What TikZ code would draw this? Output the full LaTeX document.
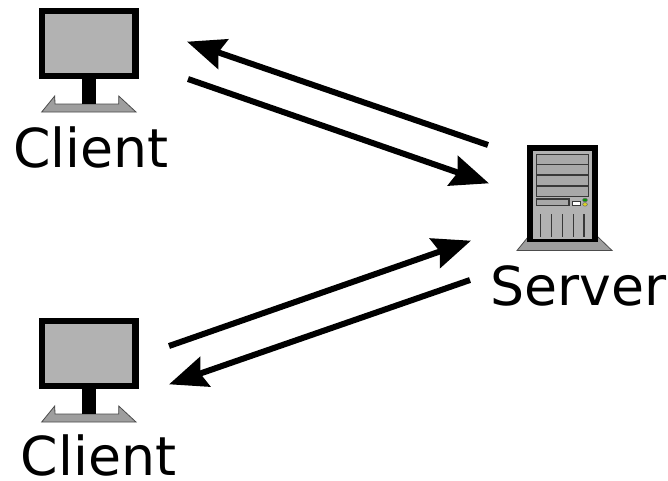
\documentclass[tikz,border=0pt]{standalone}
\usepackage{fontspec}
\setmainfont{DejaVu Sans}
\usetikzlibrary{arrows.meta}
\definecolor{scr}{gray}{0.70}
\definecolor{basegray}{gray}{0.62}
\definecolor{bay}{gray}{0.66}
\definecolor{bayline}{gray}{0.22}
\tikzset{
  flow/.style={line width=6pt,-{Stealth[length=38pt,width=31pt,inset=5pt]},shorten >=-1pt},
  lbl/.style={inner sep=0pt,anchor=base west,font=\fontsize{53.7}{60}\selectfont},
  standbase/.style={fill=basegray,draw=black!70,line width=0.8pt,line join=miter},
  baystyle/.style={fill=bay,draw=bayline,line width=1.5pt},
  vent/.style={draw=bayline,line width=1.3pt},
  pics/monitor/.style={code={
    \filldraw[standbase] (41.7,112)--(54.7,96)--(55,104)--(118.7,104)--(118.7,96)--(136,112)--cycle;
    \fill[black] (82,78) rectangle (96,104);
    \fill[black] (39,8) rectangle (138.7,79);
    \fill[scr] (45.3,14) rectangle (132,73);
  }}
}
\begin{document}
\begin{tikzpicture}[x=1pt,y=-1pt]
\useasboundingbox (0,0) rectangle (668,480);
\fill[white] (0,0) rectangle (668,480);
% monitors
\pic at (0,0) {monitor};
\pic at (0,310) {monitor};
% server
\filldraw[standbase] (517,250.5)--(528,237)--(598,237)--(612,250.5)--cycle;
\fill[black] (527.3,145) rectangle (597.7,242);
\fill[scr] (533,151) rectangle (591.7,238.5);
\foreach \a/\b in {154.3/164.3,164.3/175,175/186,186/196.7}
  \filldraw[baystyle] (536.3,\a) rectangle (588.7,\b);
\filldraw[baystyle] (536.3,199) rectangle (569,205.7);
\filldraw[fill=white,draw=bayline,line width=1pt] (572,201) rectangle (580.3,205.7);
\filldraw[fill=green!60!black,draw=black!60,line width=0.5pt] (585,200) ellipse (2.4 and 1.8);
\filldraw[fill=yellow!85!black,draw=black!60,line width=0.5pt] (585,204.4) ellipse (2.4 and 1.8);
\foreach \x in {540.7,551.3,562.3,573.3,584}
  \draw[vent] (\x,214) -- (\x,236.7);
% labels
\node[lbl] (clientA) at (13,167) {Client};
\node[lbl] (clientB) at (20.5,475.5) {Client};
\node[lbl] (server) at (490,305) {Server};
% connector ends
\coordinate (a1) at (488,145); \coordinate (a2) at (188,42);
\coordinate (b1) at (188,79);  \coordinate (b2) at (488,183);
\coordinate (c1) at (169,346); \coordinate (c2) at (470,241);
\coordinate (d1) at (470,280); \coordinate (d2) at (170,384);
\draw[flow] (a1) -- (a2);
\draw[flow] (b1) -- (b2);
\draw[flow] (c1) -- (c2);
\draw[flow] (d1) -- (d2);
\end{tikzpicture}
\end{document}
